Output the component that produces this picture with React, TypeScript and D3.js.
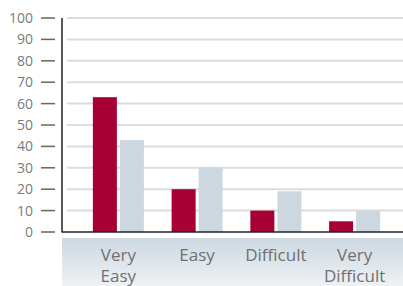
import React from 'react';
import * as d3 from 'd3';

// chart data
const categories = ['Very Easy', 'Easy', 'Difficult', 'Very Difficult'];
const categoryLines = [['Very', 'Easy'], ['Easy'], ['Difficult'], ['Very', 'Difficult']];
const series = ['A', 'B'];
const seriesA = [63, 20, 10, 5];
const seriesB = [43, 30, 19, 10];
const yTicks = [0, 10, 20, 30, 40, 50, 60, 70, 80, 90, 100];

const colors = ['#a60034', '#cdd7df'];

export default function App() {
  const width = 403;
  const height = 286;
  const axisX = 62;
  const baseY = 232;

  const y = d3.scaleLinear().domain([0, 100]).range([baseY, 18]);
  const x = d3.scaleBand<string>()
    .domain(categories)
    .range([79, 394])
    .paddingInner(0.352)
    .paddingOuter(0.176);
  const xs = d3.scaleBand<string>()
    .domain(series)
    .range([0, x.bandwidth()])
    .paddingInner(0.111);

  const values = [seriesA, seriesB];

  return (
    <svg
      width={width}
      height={height}
      style={{ position: 'absolute', left: 0, top: 0, display: 'block' }}
      fontFamily="'Open Sans', sans-serif"
    >
      <defs>
        <linearGradient id="band" x1="0" y1="0" x2="0" y2="1">
          <stop offset="0%" stopColor="#cdd8e1" />
          <stop offset="100%" stopColor="#eef2f5" />
        </linearGradient>
      </defs>

      {/* gridlines */}
      {yTicks.filter(t => t > 0).map(t => (
        <line key={t} x1={67} x2={width} y1={y(t)} y2={y(t)} stroke="#dcdcdc" strokeWidth={2} />
      ))}

      {/* tick labels and marks */}
      {yTicks.map(t => (
        <g key={'t' + t}>
          <text x={33} y={y(t)} dy="0.35em" textAnchor="end" fontSize={14} fill="#7a7a7a">{t}</text>
          <line x1={41} x2={55} y1={y(t)} y2={y(t)} stroke="#666" strokeWidth={1.5} />
        </g>
      ))}

      {/* bars */}
      {categories.map((c, i) => (
        <g key={c} transform={`translate(${x(c)},0)`}>
          {series.map((s, j) => (
            <rect
              key={s}
              x={xs(s)}
              y={y(values[j][i])}
              width={xs.bandwidth()}
              height={baseY - y(values[j][i])}
              fill={colors[j]}
            />
          ))}
        </g>
      ))}

      {/* axes */}
      <line x1={axisX} x2={axisX} y1={18} y2={baseY + 0.5} stroke="#222" strokeWidth={1.5} />
      <line x1={axisX} x2={width} y1={baseY} y2={baseY} stroke="#222" strokeWidth={1.5} />

      {/* category band */}
      <rect x={axisX} y={238} width={width - axisX} height={height - 238} fill="url(#band)" />
      {categories.map((c, i) => (
        <text key={c} textAnchor="middle" fontSize={17} fill="#707070">
          {categoryLines[i].map((l, k) => (
            <tspan key={k} x={(x(c) || 0) + x.bandwidth() / 2} y={261 + k * 21}>{l}</tspan>
          ))}
        </text>
      ))}
    </svg>
  );
}
